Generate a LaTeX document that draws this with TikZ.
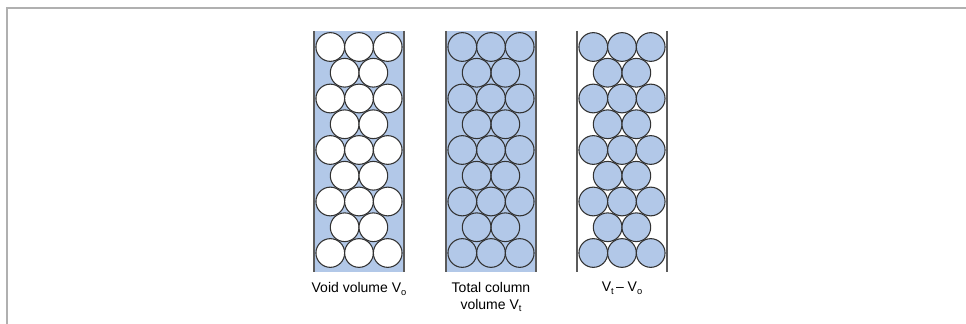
\documentclass[tikz,border=0pt]{standalone}
\usepackage{fontspec}
\setmainfont{Liberation Sans}
\newcommand\lowsub[1]{\raisebox{-0.35ex}{\scriptsize #1}}
\definecolor{colblue}{RGB}{178,200,232}
\definecolor{ringgray}{RGB}{50,50,50}
\definecolor{framegray}{RGB}{176,176,176}
\begin{document}
\begin{tikzpicture}[x=0.75pt,y=-0.75pt,
  ring/.style={draw=ringgray,line width=0.8pt},
  wall/.style={draw=ringgray!80,line width=0.9pt},
  lbl/.style={font=\fontsize{10.5}{12.5}\selectfont,align=center,anchor=north,inner sep=0pt}]
\useasboundingbox (0,0) rectangle (966,324);
\draw[framegray,line width=1.2pt] (7,324) -- (7,8) -- (966,8);
% column geometry
\def\r{14.35}
\foreach \cx/\kind in {359/1,491/2,622/3}{
  \ifnum\kind<3
    \fill[colblue] (\cx-45,31) rectangle (\cx+45,272);
  \fi
  \draw[wall] (\cx-45,31) -- (\cx-45,272);
  \draw[wall] (\cx+45,31) -- (\cx+45,272);
  \foreach \row in {0,...,8}{
    \pgfmathsetmacro{\yy}{47+\row*25.75}
    \pgfmathtruncatemacro{\odd}{mod(\row,2)}
    \ifnum\odd=0
      \foreach \k in {-1,0,1}{
        \ifnum\kind=1 \filldraw[ring,fill=white] (\cx+\k*28.7,\yy) circle (\r);
        \else\ifnum\kind=2 \draw[ring] (\cx+\k*28.7,\yy) circle (\r);
        \else \filldraw[ring,fill=colblue] (\cx+\k*28.7,\yy) circle (\r);\fi\fi
      }
    \else
      \foreach \k in {-0.5,0.5}{
        \ifnum\kind=1 \filldraw[ring,fill=white] (\cx+\k*28.7,\yy) circle (\r);
        \else\ifnum\kind=2 \draw[ring] (\cx+\k*28.7,\yy) circle (\r);
        \else \filldraw[ring,fill=colblue] (\cx+\k*28.7,\yy) circle (\r);\fi\fi
      }
    \fi
  }
}
\node[lbl] (l1) at (359,282) {Void volume V\lowsub{o}};
\node[lbl] (l2) at (491,282) {Total column\\volume V\lowsub{t}};
\node[lbl] (l3) at (622,282) {V\lowsub{t}\,– V\lowsub{o}};
\end{tikzpicture}
\end{document}
